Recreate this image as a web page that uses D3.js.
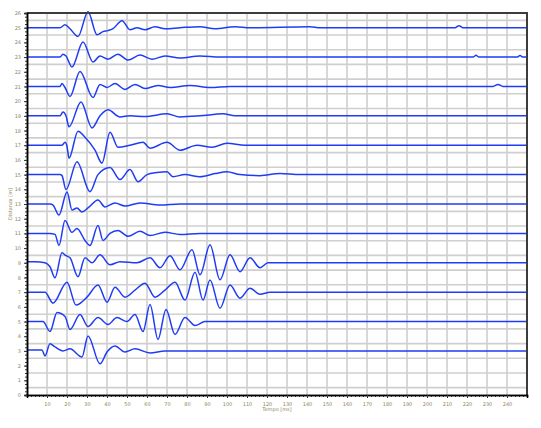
<!DOCTYPE html>
<html>
<head>
<meta charset="utf-8">
<script src="https://cdn.jsdelivr.net/npm/d3@7"></script>
<style>
  body { margin: 0; background: #fff; }
  text { font-family: "DejaVu Sans", sans-serif; }
</style>
</head>
<body>
<div id="chart"></div>
<script>
// tick labels
const timeTicks = d3.range(10, 250, 10);
const distTicks = d3.range(0, 27, 1);

// distance of each trace, top to bottom
const traceDist = [25, 23, 21, 19, 17, 15, 13, 11, 9, 7, 5, 3];

// [time ms, amplitude] picked off the seismogram, one list per trace
const trace0 = [[0,0],[16.5,0],[19,0.2],[21.5,-0.07],[25.5,-0.6],[30.5,1.09],[35,-0.48],[38,-0.27],[40.5,-0.2],[43,-0.07],[47.5,0.48],[51.5,-0.14],[55,0],[59,-0.14],[64,0.07],[69,-0.07],[76.5,0],[86.5,0.07],[94,-0.07],[104,0.07],[111.5,0],[141.5,0.07],[146.5,0],[214,0],[216,0.14],[218,0],[250,0]];
const trace1 = [[0,0],[16.5,0],[18,0.2],[19.5,0.07],[22.5,-0.68],[28,1.02],[33,-0.34],[36.5,0.07],[40.5,-0.14],[45.5,0.2],[50.5,-0.2],[56.5,0.14],[62.5,-0.14],[69,0.07],[76.5,-0.07],[86.5,0.07],[96.5,0],[223,0],[224.5,0.12],[226,0],[245,0],[246.5,0.1],[248,0],[250,0]];
const trace2 = [[0,0],[16.5,0],[17.5,0.2],[19,-0.07],[21.5,-0.68],[26.5,1.02],[33,-0.75],[36.5,0.14],[40,-0.07],[44,0.2],[49,-0.2],[54,0.14],[59,-0.14],[65.5,0.07],[71.5,-0.07],[81.5,0.07],[91.5,-0.07],[101.5,0],[233,0],[235.5,0.14],[238,0],[250,0]];
const trace3 = [[0,0],[16.5,0],[18,0.27],[19.5,0],[21,-0.75],[27,0.95],[32.5,-0.82],[36.5,0],[40.5,0.41],[46.5,-0.07],[51.5,0],[59,-0.05],[70,0.14],[76.5,-0.07],[86.5,0],[98,0.14],[104,0],[250,0]];
const trace4 = [[0,0],[17.5,0],[19,0.2],[20,-0.07],[21,-0.88],[25.5,0.95],[29,0.54],[34,-0.34],[37.5,-1.22],[41.5,0.88],[45.5,-0.14],[51.5,0],[58,0.2],[61.5,-0.2],[70,0.2],[76.5,-0.34],[85,0],[92.5,-0.14],[100,0.14],[109,0],[250,0]];
const trace5 = [[0,0],[16.5,0],[17.5,-0.07],[19.5,-1.02],[25,0.88],[31.5,-1.16],[35.5,0],[41.5,0.48],[46.5,-0.34],[51.5,0.34],[55.5,-0.48],[60,0],[65,0.14],[70,0.2],[73,-0.14],[79,0],[86.5,-0.14],[94,0.07],[100,0.2],[106.5,0],[116.5,-0.07],[126.5,0.07],[136.5,0],[250,0]];
const trace6 = [[0,0],[11.5,0],[13,-0.07],[16,-0.75],[20,0.82],[22.5,-0.41],[25,-0.27],[27.5,-0.54],[30.5,-0.27],[35.5,0.27],[39,-0.2],[44,0.07],[49,-0.14],[56.5,0.07],[66.5,-0.07],[76.5,0],[250,0]];
const trace7 = [[0,0],[11.5,0],[14,-0.07],[16,-0.82],[19,0.88],[22.5,0.07],[25,0.34],[29,-0.48],[31.5,-0.82],[35.5,0.54],[38,-0.48],[41.5,0],[45.5,0.2],[50.5,-0.2],[56.5,0.14],[61.5,-0.14],[69,0.07],[76.5,-0.07],[86.5,0],[250,0]];
const trace8 = [[0,0.07],[4,0.07],[9,0],[11.5,-0.27],[14,-1.02],[17.5,0.68],[19.5,0.48],[21.5,0.34],[25.5,-0.95],[29,0.34],[32.5,0],[36.5,0.54],[41.5,-0.14],[46.5,0.07],[55,0],[61.5,0.34],[66.5,-0.34],[71.5,0.48],[76.5,-0.48],[82.5,0.88],[86.5,-0.82],[91.5,1.22],[96.5,-1.16],[101.5,0.54],[106.5,-0.61],[111.5,0.34],[116.5,-0.34],[120.5,0],[250,0]];
const trace9 = [[0,0],[9,0],[13,-0.75],[20,0.68],[24.5,-0.88],[30,-0.34],[35.5,0.48],[40,-0.68],[44,0.34],[49,-0.34],[54,0.14],[59,0.61],[64,-0.34],[69,0.14],[74,0.68],[79,-0.54],[84,1.36],[88,-0.54],[91.5,0.82],[96.5,-1.09],[101.5,0.48],[106.5,-0.41],[111.5,0.27],[116.5,-0.14],[121.5,0],[250,0]];
const trace10 = [[0,0],[8,0],[11.5,-0.68],[15,0.61],[19,0.34],[21.5,-0.54],[26.5,0.48],[30.5,-0.34],[35.5,0.27],[40.5,-0.2],[45,0.27],[50,0],[54,0.48],[58,-0.68],[61.5,1.16],[65.5,-1.22],[69.5,0.82],[74,-0.88],[79,0.27],[84,-0.27],[89,0],[250,0]];
const trace11 = [[0,0.07],[7.5,0.07],[9,-0.34],[11.5,0.48],[14,0.27],[18,0],[21.5,0.14],[27.5,-0.41],[30.5,1.02],[36.5,-0.88],[40,-0.07],[44,0.34],[49,-0.07],[54,0.14],[61.5,-0.14],[69,0],[250,0]];

const traces = [trace0, trace1, trace2, trace3, trace4, trace5, trace6, trace7, trace8, trace9, trace10, trace11];

const width = 541, height = 428;
const margin = { top: 13, right: 14, bottom: 33, left: 27 };
const w = width - margin.left - margin.right;
const h = height - margin.top - margin.bottom;

const svg = d3.select('#chart').append('svg')
  .attr('width', width)
  .attr('height', height);

const g = svg.append('g')
  .attr('transform', `translate(${margin.left},${margin.top})`);

const x = d3.scaleLinear().domain([0, 250]).range([0, w]);
const y = d3.scaleLinear().domain([0, 26]).range([h, 0]);

const labelColor = '#8f8460';

// grid
g.append('g').attr('class', 'grid')
  .selectAll('line.v')
  .data(timeTicks)
  .join('line')
  .attr('x1', d => x(d)).attr('x2', d => x(d))
  .attr('y1', 0).attr('y2', h)
  .attr('stroke', '#cfcfcf').attr('stroke-width', 1.6);

g.select('.grid')
  .selectAll('line.h')
  .data(d3.range(0.5, 26, 1))
  .join(enter => enter.append('line'))
  .attr('class', 'h')
  .attr('x1', 0).attr('x2', w)
  .attr('y1', d => y(d)).attr('y2', d => y(d))
  .attr('stroke', '#cfcfcf').attr('stroke-width', 1.6);

// traces
const line = d3.line()
  .x(d => x(d[0]))
  .y(d => d[1])
  .curve(d3.curveMonotoneX);

g.append('g').attr('class', 'traces')
  .selectAll('path')
  .data(traces)
  .join('path')
  .attr('fill', 'none')
  .attr('stroke', '#1f3cf5')
  .attr('stroke-width', 1.5)
  .attr('d', (pts, i) => line(pts.map(p => [p[0], y(traceDist[i] + p[1])])));

// frame top / right
g.append('path')
  .attr('d', `M0,0H${w}V${h}`)
  .attr('fill', 'none')
  .attr('stroke', '#3c3c3c')
  .attr('stroke-width', 2);

// axes
const xAxis = d3.axisBottom(x).tickValues(timeTicks).tickSize(3).tickFormat(d3.format('d'));
const xMinor = d3.axisBottom(x).tickValues(d3.range(0, 251, 2)).tickSize(2).tickFormat('');
const yAxis = d3.axisLeft(y).tickValues(distTicks).tickSize(3).tickFormat(d3.format('d'));
const yMinor = d3.axisLeft(y).tickValues(d3.range(0, 26.01, 0.25)).tickSize(2).tickFormat('');

const styleAxis = sel => {
  sel.select('.domain').attr('stroke', '#000').attr('stroke-width', 1.5);
  sel.selectAll('.tick line').attr('stroke', '#333');
  sel.selectAll('text').attr('fill', labelColor).attr('font-size', 5);
};

g.append('g').attr('transform', `translate(0,${h})`).call(xMinor).call(styleAxis);
g.append('g').attr('transform', `translate(0,${h})`).call(xAxis).call(styleAxis)
  .selectAll('text').attr('dy', '0.9em');
g.append('g').call(yMinor).call(styleAxis);
g.append('g').call(yAxis).call(styleAxis);

// axis titles
g.append('text')
  .attr('x', x(125)).attr('y', h + 16)
  .attr('text-anchor', 'middle')
  .attr('font-size', 5)
  .attr('fill', labelColor)
  .text('Tempo [ms]');

g.append('text')
  .attr('transform', `translate(${-15},${y(13)}) rotate(-90)`)
  .attr('text-anchor', 'middle')
  .attr('font-size', 5)
  .attr('fill', labelColor)
  .text('Distanza [m]');
</script>
</body>
</html>
